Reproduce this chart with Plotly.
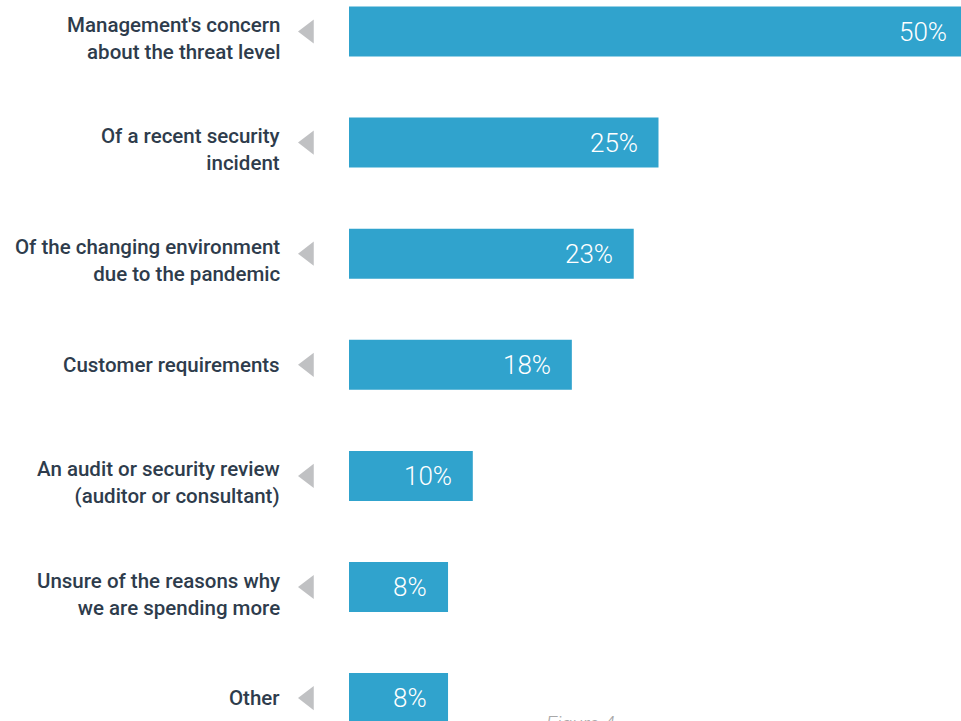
import plotly.graph_objects as go

# Survey responses: why security spending is increasing
categories = [
    "Management's concern<br>about the threat level",
    "Of a recent security<br>incident",
    "Of the changing environment<br>due to the pandemic",
    "Customer requirements",
    "An audit or security review<br>(auditor or consultant)",
    "Unsure of the reasons why<br>we are spending more",
    "Other",
]
values = [50, 25, 23, 18, 10, 8, 8]
caption = "Figure 4"

BAR_COLOR = "#30a3cd"
ARROW_COLOR = "#c0c1c3"
LABEL_COLOR = "#2e3c4c"

W, H = 961, 721
PX_PER_UNIT = 12.38          # horizontal scale: pixels per percentage point
ZERO_PX = 349                # pixel column of the bars' baseline
ROW_PX = 111.1               # vertical distance between rows
FIRST_ROW_PX = 31.5          # pixel row of the first bar's centre

x_range = [-ZERO_PX / PX_PER_UNIT, (W - ZERO_PX) / PX_PER_UNIT]
y_range = [(H - FIRST_ROW_PX) / ROW_PX, -FIRST_ROW_PX / ROW_PX]

rows = list(range(len(categories)))

fig = go.Figure()

fig.add_trace(go.Bar(
    x=values,
    y=rows,
    orientation="h",
    marker=dict(color=BAR_COLOR, line=dict(width=0)),
    width=50 / ROW_PX,
    hoverinfo="skip",
))

# small pointer triangles between the labels and the bars
arrow_x = (308.5 - ZERO_PX) / PX_PER_UNIT
fig.add_trace(go.Scatter(
    x=[arrow_x] * len(rows),
    y=rows,
    mode="markers",
    marker=dict(symbol="triangle-left", size=21, color=ARROW_COLOR),
    cliponaxis=False,
    hoverinfo="skip",
))

annotations = []
label_x = (282 - ZERO_PX) / PX_PER_UNIT
value_pad = 19 / PX_PER_UNIT
for r, cat, v in zip(rows, categories, values):
    two_lines = "<br>" in cat
    annotations.append(dict(
        x=label_x, y=r, xref="x", yref="y",
        text=cat, showarrow=False,
        xanchor="right", yanchor="middle", align="right",
        yshift=-7 if two_lines else 0,
        font=dict(family="Roboto", size=20.5, weight=500, color=LABEL_COLOR),
    ))
    annotations.append(dict(
        x=v - value_pad, y=r, xref="x", yref="y",
        text=f"{v}%", showarrow=False,
        xanchor="right", yanchor="middle",
        font=dict(family="Roboto", size=26, weight=300, color="white"),
    ))

annotations.append(dict(
    x=580 / W, y=1 - 724 / H, xref="paper", yref="paper",
    text=f"<i>{caption}</i>", showarrow=False,
    xanchor="center", yanchor="middle",
    font=dict(family="Roboto", size=20, weight=300, color="#a8a8a8"),
))

fig.update_layout(
    width=W, height=H,
    margin=dict(l=0, r=0, t=0, b=0),
    paper_bgcolor="white",
    plot_bgcolor="white",
    showlegend=False,
    xaxis=dict(range=x_range, visible=False, fixedrange=True),
    yaxis=dict(range=y_range, visible=False, fixedrange=True),
    annotations=annotations,
)

fig.write_html("out.html", config={"displayModeBar": False})
